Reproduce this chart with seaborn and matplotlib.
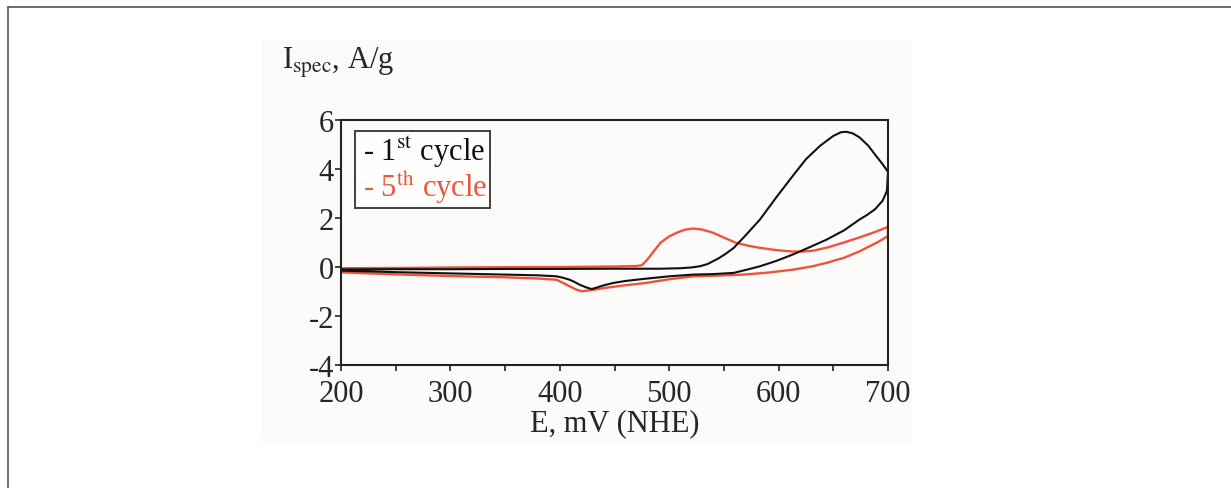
import matplotlib
matplotlib.use('Agg')
import matplotlib.pyplot as plt
from matplotlib.lines import Line2D
from matplotlib.patches import Rectangle
import seaborn as sns
import pandas as pd

# cyclic voltammograms, points in scan order (forward scan, then reverse scan)
cycle1_E = [200, 250, 300, 350, 400, 450, 492, 510, 520, 528, 535, 545, 552, 559, 570, 583, 598, 613, 625, 638,
            650, 657, 662, 668, 674, 682, 689, 695, 700,
            699, 695, 688, 680, 674, 660, 644, 628, 613, 598, 583, 570, 559, 540, 522, 500, 476, 460, 449, 440,
            433, 429, 424, 418, 413, 409, 403, 397, 380, 350, 309, 250, 200]
cycle1_I = [-0.10, -0.09, -0.09, -0.08, -0.08, -0.07, -0.07, -0.05, -0.02, 0.03, 0.12, 0.35, 0.55, 0.78, 1.30, 1.94, 2.85, 3.72, 4.40, 4.95,
            5.35, 5.50, 5.52, 5.45, 5.29, 4.95, 4.54, 4.20, 3.88,
            3.10, 2.70, 2.35, 2.10, 1.94, 1.50, 1.12, 0.80, 0.51, 0.25, 0.03, -0.12, -0.24, -0.29, -0.31, -0.38, -0.49, -0.57, -0.65, -0.75,
            -0.85, -0.90, -0.83, -0.72, -0.60, -0.52, -0.44, -0.38, -0.34, -0.31, -0.27, -0.21, -0.15]

cycle5_E = [200, 250, 300, 350, 400, 450, 470, 475, 480, 486, 492, 500, 507, 514, 522, 530, 540, 550, 561, 572,
            583, 598, 613, 622, 632, 645, 659, 670, 680, 690, 700,
            700, 690, 674, 660, 644, 630, 613, 590, 568, 545, 522, 500, 479, 465, 452, 440, 431, 420, 415,
            409, 403, 397, 380, 350, 309, 250, 200]
cycle5_I = [-0.05, -0.04, -0.02, -0.01, 0.00, 0.02, 0.04, 0.07, 0.30, 0.65, 0.99, 1.25, 1.40, 1.52, 1.57, 1.53, 1.40, 1.20, 0.99, 0.87,
            0.78, 0.69, 0.63, 0.63, 0.67, 0.80, 0.99, 1.15, 1.30, 1.46, 1.64,
            1.26, 1.00, 0.64, 0.38, 0.17, 0.02, -0.11, -0.23, -0.31, -0.35, -0.38, -0.50, -0.65, -0.72, -0.79, -0.86, -0.93, -0.99, -0.92,
            -0.79, -0.65, -0.52, -0.47, -0.42, -0.38, -0.30, -0.22]

x_ticks = [200, 300, 400, 500, 600, 700]
y_ticks = [-4, -2, 0, 2, 4, 6]

black = '#111111'
red = '#f0533a'
fs = 22

sns.set_style('ticks')
plt.rcParams['font.family'] = ['Liberation Serif', 'DejaVu Serif']
plt.rcParams['mathtext.fontset'] = 'stix'
plt.rcParams['axes.unicode_minus'] = False

fig = plt.figure(figsize=(12.31, 4.89), dpi=100)

# faint off-white panel behind the chart and the page frame lines
fig.patches.append(Rectangle((262 / 1231, 1 - 445 / 489), 650 / 1231, 405 / 489,
                             transform=fig.transFigure, fc='#fdfbf9', ec='none', zorder=-5))
fig.add_artist(Line2D([8 / 1231, 1], [1 - 8 / 489, 1 - 8 / 489], color='#555555', lw=1.2))
fig.add_artist(Line2D([8 / 1231, 8 / 1231], [0, 1 - 8 / 489], color='#555555', lw=1.2))

ax = fig.add_axes([341 / 1231, 1 - 366 / 489, 547 / 1231, 245 / 489])
ax.set_facecolor('none')

df1 = pd.DataFrame({'E': cycle1_E, 'I': cycle1_I})
df5 = pd.DataFrame({'E': cycle5_E, 'I': cycle5_I})
sns.lineplot(data=df5, x='E', y='I', sort=False, estimator=None, color=red, lw=1.7, ax=ax, legend=False)
sns.lineplot(data=df1, x='E', y='I', sort=False, estimator=None, color=black, lw=1.5, ax=ax, legend=False)

ax.set_xlim(200, 700)
ax.set_ylim(-4, 6)
ax.set_xticks(x_ticks)
ax.set_xticks([250, 350, 450, 550, 650], minor=True)
ax.set_yticks(y_ticks)
ax.tick_params(axis='both', which='both', direction='out', length=4, width=1.2, labelsize=fs, color='#222222')
ax.tick_params(axis='x', pad=6)
ax.tick_params(axis='y', pad=1)
for s in ax.spines.values():
    s.set_linewidth(1.5)
    s.set_color('#222222')
    s.set_visible(True)

ax.set_xlabel('E, mV (NHE)', fontsize=fs, labelpad=0)
ax.set_ylabel('')
fig.text(282 / 1231, 1 - 63 / 489, r'I$_{\mathrm{spec}}$, A/g', fontsize=fs, va='center', ha='left')

handles = [Line2D([], [], lw=0), Line2D([], [], lw=0)]
leg = ax.legend(handles, [r'- 1$^{\mathrm{st}}$ cycle', r'- 5$^{\mathrm{th}}$ cycle'],
                loc='upper left', bbox_to_anchor=(0.025, 0.955), handlelength=0, handletextpad=0.2,
                fontsize=fs, frameon=True, fancybox=False, edgecolor='#111111', borderpad=0.08,
                labelspacing=0.0, borderaxespad=0)
leg.get_frame().set_linewidth(1.4)
leg.texts[0].set_color(black)
leg.texts[1].set_color(red)

fig.savefig('out.png', dpi=100)
